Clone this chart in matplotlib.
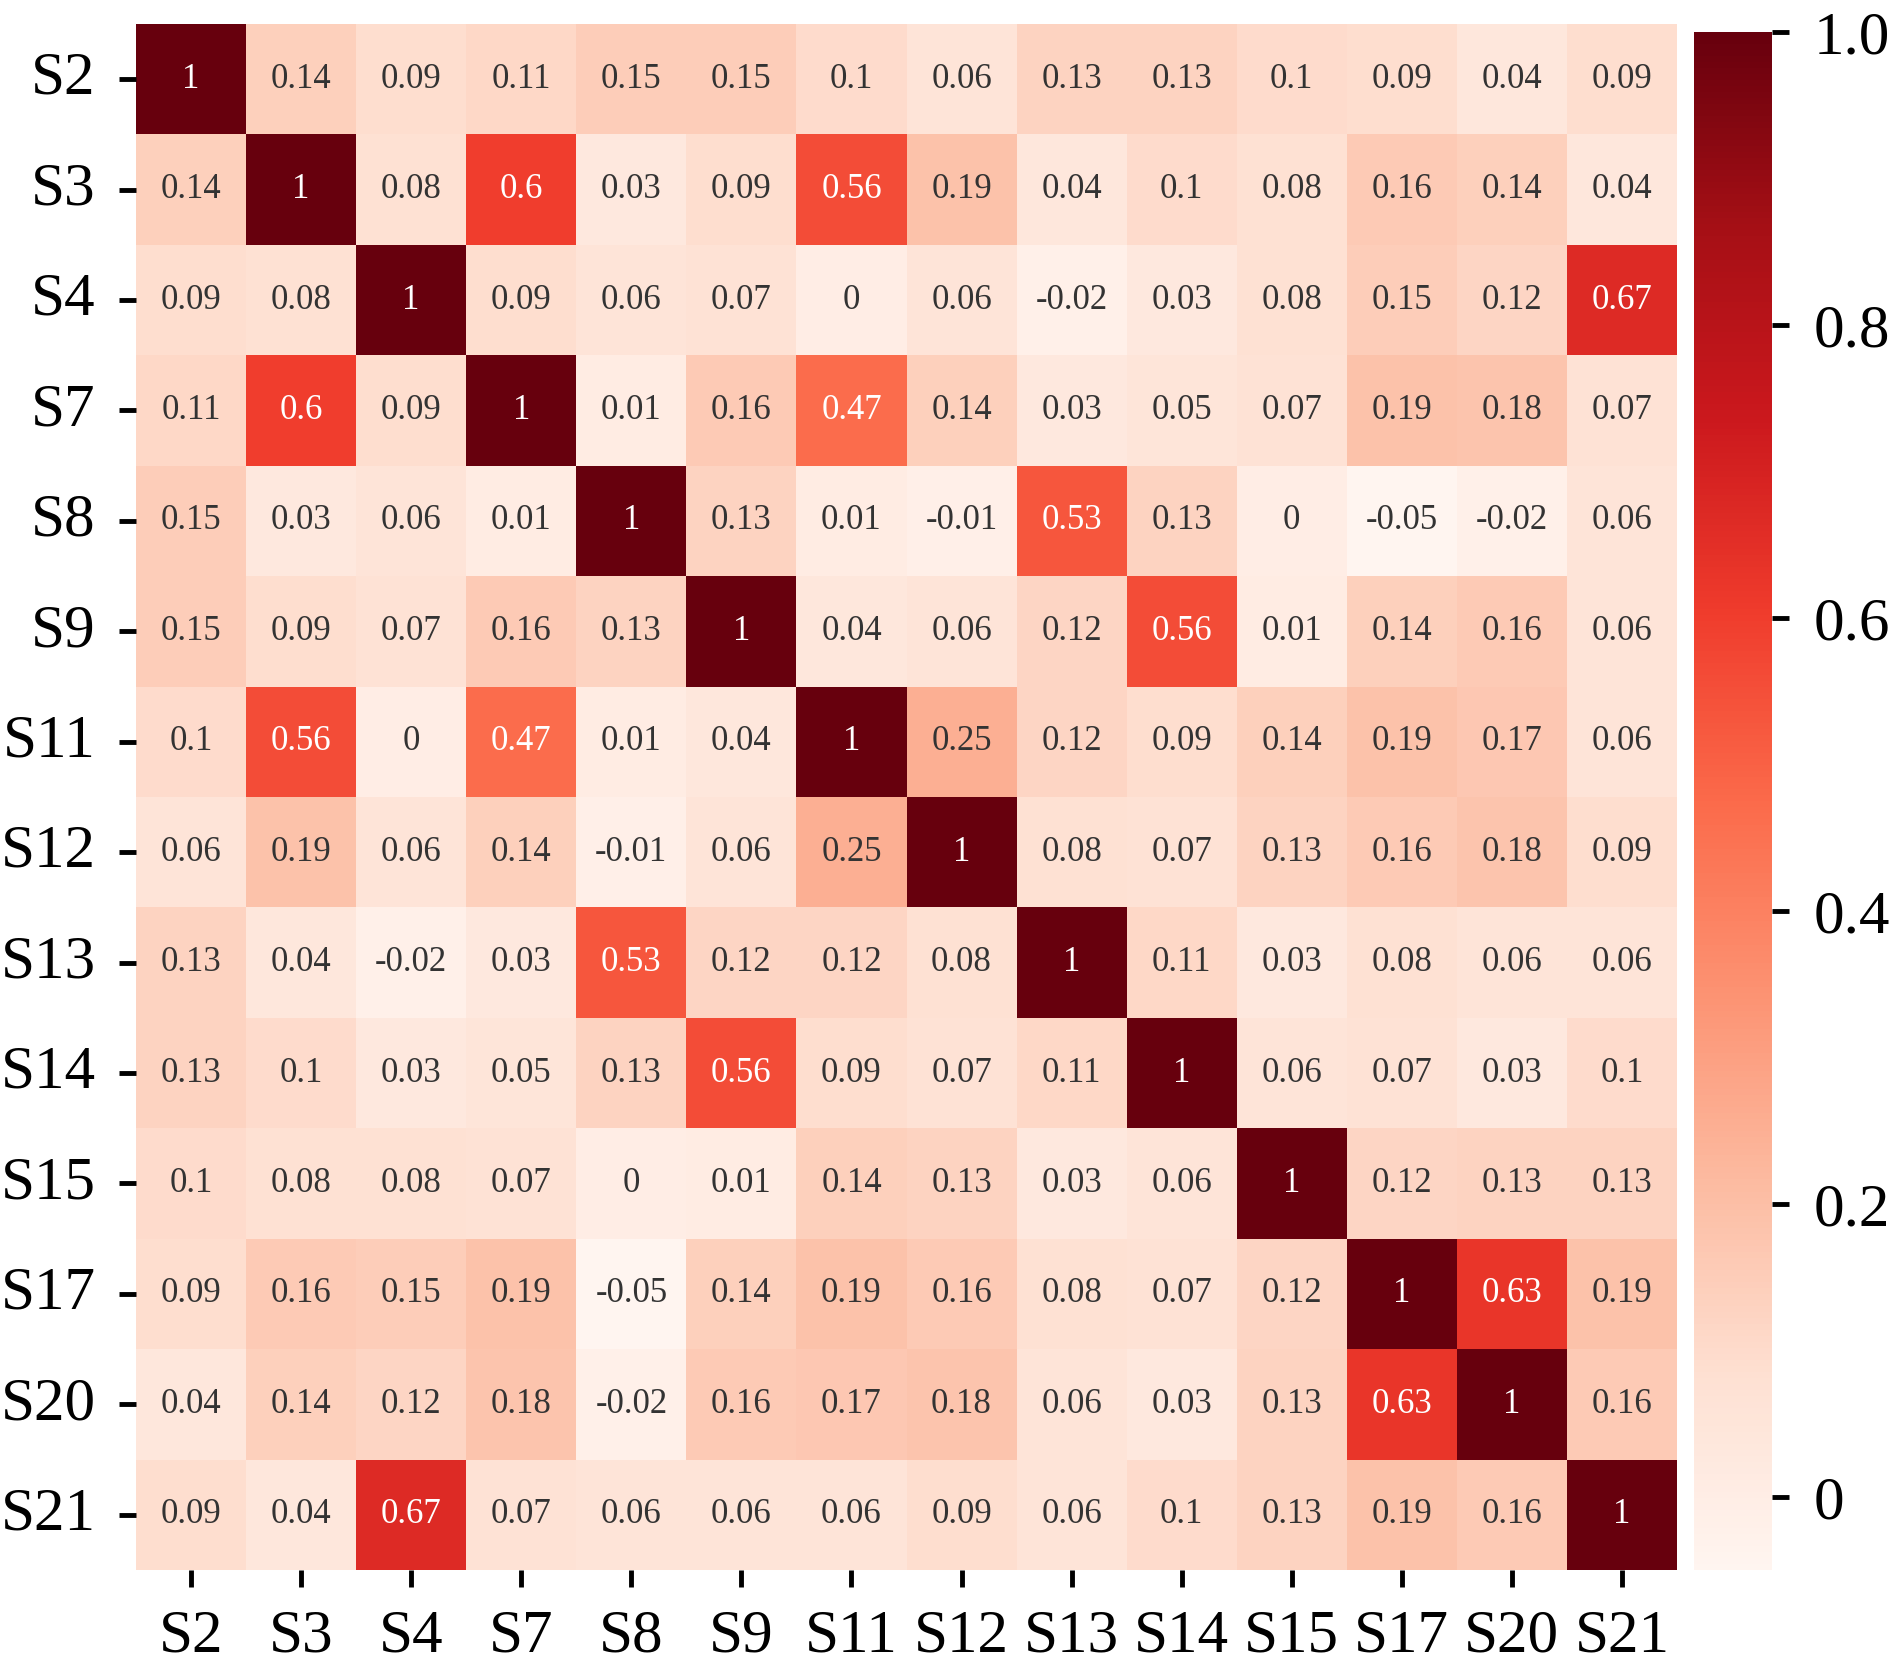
import numpy as np
import matplotlib
matplotlib.use("Agg")
import matplotlib.pyplot as plt
import seaborn as sns

plt.rcParams['font.family'] = ['Liberation Serif', 'DejaVu Serif']

# Variable names
labels = ["S2", "S3", "S4", "S7", "S8", "S9", "S11", "S12", "S13", "S14",
          "S15", "S17", "S20", "S21"]

# Correlation matrix rows
r_s2 = [1, 0.14, 0.09, 0.11, 0.15, 0.15, 0.1, 0.06, 0.13, 0.13, 0.1, 0.09, 0.04, 0.09]
r_s3 = [0.14, 1, 0.08, 0.6, 0.03, 0.09, 0.56, 0.19, 0.04, 0.1, 0.08, 0.16, 0.14, 0.04]
r_s4 = [0.09, 0.08, 1, 0.09, 0.06, 0.07, 0, 0.06, -0.02, 0.03, 0.08, 0.15, 0.12, 0.67]
r_s7 = [0.11, 0.6, 0.09, 1, 0.01, 0.16, 0.47, 0.14, 0.03, 0.05, 0.07, 0.19, 0.18, 0.07]
r_s8 = [0.15, 0.03, 0.06, 0.01, 1, 0.13, 0.01, -0.01, 0.53, 0.13, 0, -0.05, -0.02, 0.06]
r_s9 = [0.15, 0.09, 0.07, 0.16, 0.13, 1, 0.04, 0.06, 0.12, 0.56, 0.01, 0.14, 0.16, 0.06]
r_s11 = [0.1, 0.56, 0, 0.47, 0.01, 0.04, 1, 0.25, 0.12, 0.09, 0.14, 0.19, 0.17, 0.06]
r_s12 = [0.06, 0.19, 0.06, 0.14, -0.01, 0.06, 0.25, 1, 0.08, 0.07, 0.13, 0.16, 0.18, 0.09]
r_s13 = [0.13, 0.04, -0.02, 0.03, 0.53, 0.12, 0.12, 0.08, 1, 0.11, 0.03, 0.08, 0.06, 0.06]
r_s14 = [0.13, 0.1, 0.03, 0.05, 0.13, 0.56, 0.09, 0.07, 0.11, 1, 0.06, 0.07, 0.03, 0.1]
r_s15 = [0.1, 0.08, 0.08, 0.07, 0, 0.01, 0.14, 0.13, 0.03, 0.06, 1, 0.12, 0.13, 0.13]
r_s17 = [0.09, 0.16, 0.15, 0.19, -0.05, 0.14, 0.19, 0.16, 0.08, 0.07, 0.12, 1, 0.63, 0.19]
r_s20 = [0.04, 0.14, 0.12, 0.18, -0.02, 0.16, 0.17, 0.18, 0.06, 0.03, 0.13, 0.63, 1, 0.16]
r_s21 = [0.09, 0.04, 0.67, 0.07, 0.06, 0.06, 0.06, 0.09, 0.06, 0.1, 0.13, 0.19, 0.16, 1]

corr = np.array([r_s2, r_s3, r_s4, r_s7, r_s8, r_s9, r_s11, r_s12, r_s13, r_s14,
                 r_s15, r_s17, r_s20, r_s21])

cbar_ticks = [0, 0.2, 0.4, 0.6, 0.8, 1.0]
cbar_ticklabels = ["0", "0.2", "0.4", "0.6", "0.8", "1.0"]

W, H = 1890, 1670
fig = plt.figure(figsize=(W / 100, H / 100), dpi=100)
ax = fig.add_axes([136 / W, 1 - 1570 / H, (1677 - 136) / W, (1570 - 24) / H])
cax = fig.add_axes([1694 / W, 1 - 1570 / H, 78 / W, (1570 - 32) / H])

sns.heatmap(corr, ax=ax, cbar_ax=cax, cmap="Reds", vmin=-0.05, vmax=1.0,
            annot=True, fmt="g", annot_kws={"size": 25, "family": "Liberation Serif"},
            xticklabels=labels, yticklabels=labels)

# softer grey text on the light cells, like the original
for t in ax.texts:
    if t.get_color() != "w":
        t.set_color("#333333")

ax.tick_params(axis="both", length=12, width=3.5, labelsize=44, pad=16)
ax.tick_params(axis="y", rotation=0, pad=17)
ax.tick_params(axis="x", rotation=0)

cax.set_yticks(cbar_ticks)
cax.set_yticklabels(cbar_ticklabels)
cax.tick_params(length=12, width=3.5, labelsize=44, pad=18)

fig.savefig("out.png", dpi=100)
